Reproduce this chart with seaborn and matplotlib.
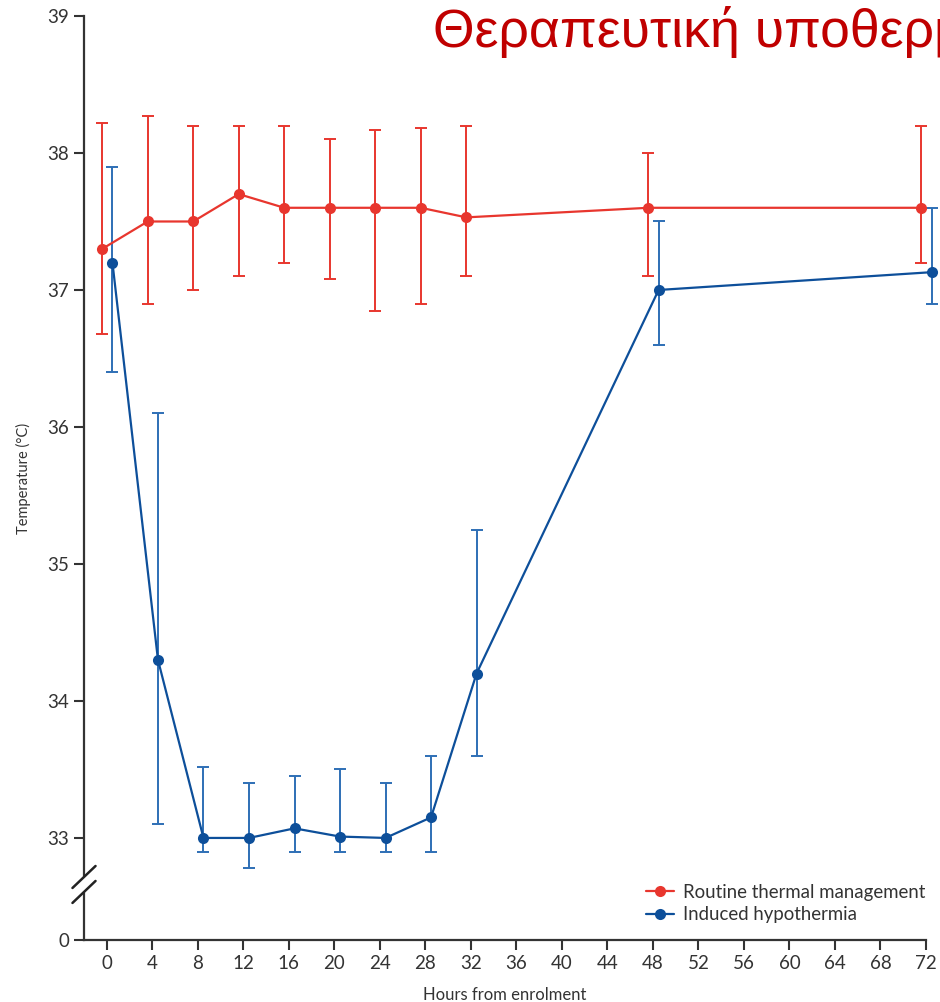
import numpy as np
import pandas as pd
import matplotlib
matplotlib.use("Agg")
from matplotlib import pyplot as plt
import seaborn as sns

# Values
HOURS = [0, 4, 8, 12, 16, 20, 24, 28, 32, 48, 72]

routine_mean = [37.3, 37.5, 37.5, 37.7, 37.6, 37.6, 37.6, 37.6, 37.53, 37.6, 37.6]
routine_low = [36.68, 36.9, 37.0, 37.1, 37.2, 37.08, 36.85, 36.9, 37.1, 37.1, 37.2]
routine_high = [38.22, 38.27, 38.2, 38.2, 38.2, 38.1, 38.17, 38.18, 38.2, 38.0, 38.2]

hypo_mean = [37.2, 34.3, 33.0, 33.0, 33.07, 33.01, 33.0, 33.15, 34.2, 37.0, 37.13]
hypo_low = [36.4, 33.1, 32.9, 32.78, 32.9, 32.9, 32.9, 32.9, 33.6, 36.6, 36.9]
hypo_high = [37.9, 36.1, 33.52, 33.4, 33.45, 33.5, 33.4, 33.6, 35.25, 37.5, 37.6]

GROUPS = ["Routine thermal management", "Induced hypothermia"]
X_TICKS = list(range(0, 73, 4))
Y_TICKS = [0, 33, 34, 35, 36, 37, 38, 39]
TITLE = "Θεραπευτική υποθερμία"

RED = "#e8362e"
BLUE_LINE = "#0d4f9a"
BLUE_ERR = "#2e6fb6"
DODGE = {GROUPS[0]: -0.4, GROUPS[1]: 0.5}

df = pd.DataFrame({
    "hours": HOURS * 2,
    "temp": routine_mean + hypo_mean,
    "low": routine_low + hypo_low,
    "high": routine_high + hypo_high,
    "group": [GROUPS[0]] * len(HOURS) + [GROUPS[1]] * len(HOURS),
})
df["x"] = df["hours"] + df["group"].map(DODGE)

sns.set_theme(style="ticks")
plt.rcParams["font.family"] = ["Lato", "DejaVu Sans"]

# broken y axis: 0 squeezed just under the 33 tick
CUT = 32.6
ZERO_AT = 32.255


def fwd(y):
    y = np.asarray(y, dtype=float)
    return np.where(y >= CUT, y, ZERO_AT + y * (CUT - ZERO_AT) / CUT)


def inv(v):
    v = np.asarray(v, dtype=float)
    return np.where(v >= CUT, v, (v - ZERO_AT) * CUT / (CUT - ZERO_AT))


fig = plt.figure(figsize=(9.4, 10.02), dpi=100)
ax = fig.add_axes([84 / 940, 1 - 940 / 1002, 842 / 940, 924 / 1002])
ax.set_yscale("function", functions=(fwd, inv))

colors = {GROUPS[0]: RED, GROUPS[1]: BLUE_ERR}
for g in GROUPS:
    d = df[df["group"] == g]
    eb = ax.errorbar(d["x"], d["temp"], yerr=[d["temp"] - d["low"], d["high"] - d["temp"]],
                     fmt="none", ecolor=colors[g], elinewidth=1.4, capsize=4.5,
                     capthick=1.4, zorder=2)
    for art in eb.lines[1] + eb.lines[2]:
        art.set_clip_on(False)

sns.lineplot(data=df, x="x", y="temp", hue="group", hue_order=GROUPS,
             palette={GROUPS[0]: RED, GROUPS[1]: BLUE_LINE}, marker="o",
             markersize=8, markeredgewidth=0, linewidth=1.6, sort=False,
             ax=ax, zorder=3)
for ln in ax.lines:
    ln.set_clip_on(False)

ax.set_xlim(-2, 72)
ax.set_ylim(0, 39)
ax.set_xticks(X_TICKS)
ax.set_yticks(Y_TICKS)
ax.tick_params(axis="both", labelsize=13.5, colors="#333333", length=7, width=1.5)
for s in ["top", "right"]:
    ax.spines[s].set_visible(False)
for s in ["left", "bottom"]:
    ax.spines[s].set_linewidth(1.6)
    ax.spines[s].set_color("#333333")

ax.set_xlabel("Hours from enrolment", fontsize=12, color="#333333", labelpad=11)
ax.set_ylabel("Temperature (°C)", fontsize=10.5, color="#333333", labelpad=12)

# axis break marks
ax.plot([0, 0], [0.054, 0.066], transform=ax.transAxes, color="white",
        lw=4, clip_on=False, zorder=5)
for yc in (0.0682, 0.052):
    ax.plot([-0.0137, 0.0137], [yc - 0.0119, yc + 0.0119], transform=ax.transAxes,
            color="#222222", lw=1.8, clip_on=False, zorder=6)

leg = ax.legend(loc="lower right", bbox_to_anchor=(1.013, 0.006), frameon=False,
                fontsize=13.4, handlelength=1.5, handletextpad=0.5, labelspacing=0.3,
                borderaxespad=0.2)
for t in leg.get_texts():
    t.set_color("#333333")

fig.text(433 / 940, 1 - 47 / 1002, TITLE, fontsize=38.5, color="#c00000",
         family=["Liberation Sans", "DejaVu Sans"], ha="left", va="baseline")

fig.savefig("out.png", dpi=100)
